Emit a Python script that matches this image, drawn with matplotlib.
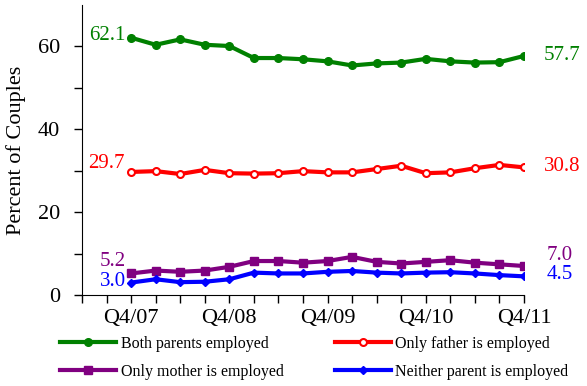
import matplotlib
matplotlib.use("Agg")
import matplotlib.pyplot as plt
import numpy as np

plt.rcParams["font.family"] = ["Liberation Serif", "DejaVu Serif"]

QUARTERS = [
    "Q4/07", "Q1/08", "Q2/08", "Q3/08", "Q4/08", "Q1/09", "Q2/09", "Q3/09",
    "Q4/09", "Q1/10", "Q2/10", "Q3/10", "Q4/10", "Q1/11", "Q2/11", "Q3/11",
    "Q4/11",
]
TICK_LABELS = ["Q4/07", "Q4/08", "Q4/09", "Q4/10", "Q4/11"]

both_employed = [62.1, 60.4, 61.7, 60.4, 60.1, 57.2, 57.2, 56.9, 56.4,
                 55.4, 55.9, 56.1, 57.0, 56.4, 56.1, 56.2, 57.7]
only_father = [29.7, 29.9, 29.2, 30.2, 29.4, 29.3, 29.4, 29.9, 29.6,
               29.6, 30.4, 31.2, 29.4, 29.6, 30.6, 31.4, 30.8]
only_mother = [5.2, 5.9, 5.6, 5.9, 6.8, 8.2, 8.2, 7.8, 8.2,
               9.2, 8.0, 7.6, 8.0, 8.4, 7.8, 7.4, 7.0]
neither = [3.0, 3.8, 3.1, 3.2, 3.8, 5.4, 5.2, 5.2, 5.6,
           5.8, 5.4, 5.2, 5.4, 5.5, 5.2, 4.8, 4.5]

SERIES = [
    ("Both parents employed", both_employed, "#008000",
     dict(marker="o", ms=5.5, mfc="#008000", mec="#008000")),
    ("Only father is employed", only_father, "#ff0000",
     dict(marker="o", ms=5, mfc="white", mec="#ff0000", mew=1.5)),
    ("Only mother is employed", only_mother, "#800080",
     dict(marker="s", ms=6, mfc="#800080", mec="#800080")),
    ("Neither parent is employed", neither, "#0000ff",
     dict(marker="D", ms=4.5, mfc="#0000ff", mec="#0000ff")),
]

# offsets (pixels) for the start / end value labels
LEFT_OFFSETS = [(-6, 2), (-6, 8), (-5, 12), (-5, 1)]
RIGHT_OFFSETS = [(20, 0), (20, 1), (23, 11), (23, 2)]

fig = plt.figure(figsize=(5.87, 3.86), dpi=100)
ax = fig.add_axes([82 / 587, 1 - 295 / 386, 442 / 587, 290 / 386])

x = np.arange(len(QUARTERS))
handles = []
for (label, vals, color, mk), lo, ro in zip(SERIES, LEFT_OFFSETS, RIGHT_OFFSETS):
    h, = ax.plot(x, vals, color=color, lw=3, label=label, **mk)
    handles.append(h)
    ax.annotate(f"{vals[0]:.1f}", (x[0], vals[0]), xytext=(lo[0] * 0.72, lo[1] * 0.72),
                textcoords="offset points", ha="right", va="center",
                color=color, fontsize=15)
    ax.annotate(f"{vals[-1]:.1f}", (x[-1], vals[-1]), xytext=(ro[0] * 0.72, ro[1] * 0.72),
                textcoords="offset points", ha="left", va="center",
                color=color, fontsize=15)

ax.set_xlim(-2, len(QUARTERS) - 1)
ax.set_ylim(0, 70)
ax.set_xticks(np.arange(-2, len(QUARTERS)))
ax.set_xticklabels([""] * 2 + [q if q in TICK_LABELS else "" for q in QUARTERS])
ax.set_yticks([0, 20, 40, 60])
ax.set_yticks([10, 30, 50], minor=True)
ax.tick_params(axis="both", direction="out", length=6, width=1, labelsize=16,
               colors="black")
ax.tick_params(axis="y", which="minor", direction="out", length=6, width=1)
ax.tick_params(axis="x", pad=4)
ax.tick_params(axis="y", pad=10)
ax.spines["top"].set_visible(False)
ax.spines["right"].set_visible(False)
ax.set_ylabel("Percent of Couples", fontsize=16, labelpad=8)

# legend is filled row by row in the reference
order = [0, 2, 1, 3]
fig.legend(handles=[handles[i] for i in order], loc="upper left", ncol=2,
           frameon=False, bbox_to_anchor=(60 / 587, 1 - 336 / 386),
           borderaxespad=0, borderpad=0, fontsize=11.5, handlelength=3.5,
           handletextpad=0.3, columnspacing=3.2, labelspacing=0.75)

fig.savefig("out.png", dpi=100)
